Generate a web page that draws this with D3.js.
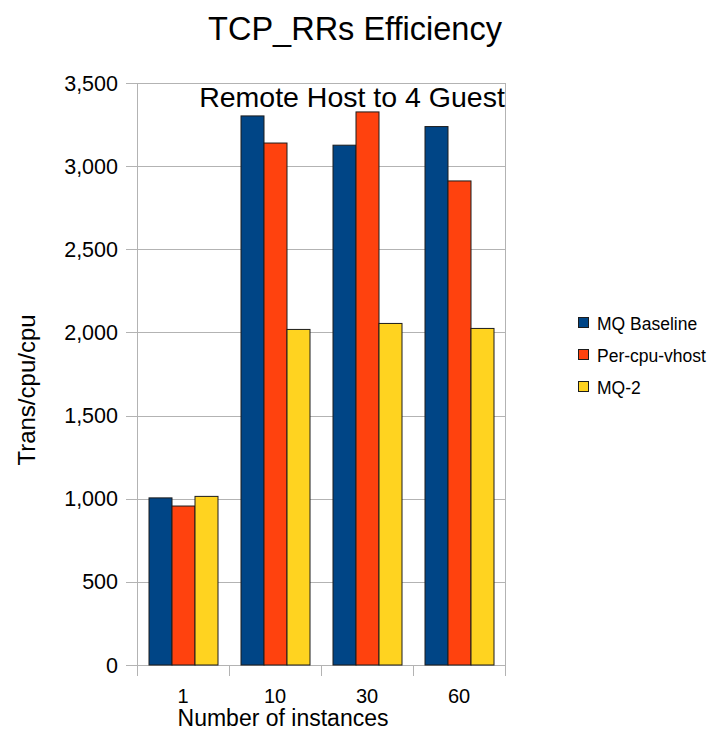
<!DOCTYPE html>
<html><head><meta charset="utf-8">
<script src="https://cdn.jsdelivr.net/npm/d3@7"></script>
<style>body{margin:0;background:#fff;} svg{display:block;font-family:"Liberation Sans",Arial,sans-serif;}</style>
</head><body>
<svg id="c" width="721" height="736"></svg>
<script>
const categories = ["1", "10", "30", "60"];
const seriesNames = ["MQ Baseline", "Per-cpu-vhost", "MQ-2"];
const mqBaseline = [1005, 3302, 3126, 3238];
const perCpuVhost = [956, 3139, 3326, 2911];
const mq2 = [1014, 2018, 2054, 2024];
const yTicks = [0, 500, 1000, 1500, 2000, 2500, 3000, 3500];
const colors = ["#004586", "#ff420e", "#ffd320"];

const series = [mqBaseline, perCpuVhost, mq2];
const svg = d3.select("#c");
const L = 137, R = 505, T = 83, B = 665;

const x = d3.scaleBand().domain(categories).range([L, R]).paddingInner(0).paddingOuter(0);
const xIn = d3.scaleBand().domain(seriesNames).range([0, x.bandwidth()]).paddingInner(0).paddingOuter(0.5);
const y = d3.scaleLinear().domain([0, 3500]).range([B, T]);

// gridlines
svg.append("g").selectAll("line").data(yTicks).join("line")
  .attr("x1", L - 11).attr("x2", R)
  .attr("y1", d => Math.round(y(d)) + 0.5).attr("y2", d => Math.round(y(d)) + 0.5)
  .attr("stroke", "#b3b3b3").attr("stroke-width", 1);
// frame right & left axis
svg.append("line").attr("x1", R + 0.5).attr("x2", R + 0.5).attr("y1", T).attr("y2", B + 11).attr("stroke", "#b3b3b3");
svg.append("line").attr("x1", L + 0.5).attr("x2", L + 0.5).attr("y1", T).attr("y2", B + 11).attr("stroke", "#b3b3b3");
// x ticks at boundaries
const bounds = categories.map(c => x(c)).concat([R]);
svg.append("g").selectAll("line").data(bounds).join("line")
  .attr("x1", d => Math.round(d) + 0.5).attr("x2", d => Math.round(d) + 0.5)
  .attr("y1", B).attr("y2", B + 11).attr("stroke", "#b3b3b3");

// bars
series.forEach((vals, si) => {
  svg.append("g").selectAll("rect").data(vals).join("rect")
    .attr("x", (d, i) => x(categories[i]) + xIn(seriesNames[si]) + 0.5)
    .attr("y", d => y(d))
    .attr("width", xIn.bandwidth())
    .attr("height", d => B - y(d))
    .attr("fill", colors[si]).attr("stroke", "#1c1c1c").attr("stroke-width", 1);
});

// y tick labels
svg.append("g").selectAll("text").data(yTicks).join("text")
  .attr("x", 118).attr("y", d => y(d) + 7.5)
  .attr("text-anchor", "end").attr("font-size", 21.5).attr("fill", "#000")
  .text(d => d3.format(",")(d));

// x labels
svg.append("g").selectAll("text").data(categories).join("text")
  .attr("x", d => x(d) + x.bandwidth() / 2).attr("y", 703)
  .attr("text-anchor", "middle").attr("font-size", 20).text(d => d);

svg.append("text").attr("x", 283).attr("y", 726).attr("text-anchor", "middle")
  .attr("font-size", 23).text("Number of instances");

svg.append("text").attr("transform", "translate(35,390) rotate(-90)").attr("text-anchor", "middle")
  .attr("font-size", 24).text("Trans/cpu/cpu");

svg.append("text").attr("x", 355).attr("y", 40).attr("text-anchor", "middle")
  .attr("font-size", 32.5).text("TCP_RRs Efficiency");

svg.append("text").attr("x", 352).attr("y", 107).attr("text-anchor", "middle")
  .attr("font-size", 28.5).text("Remote Host to 4 Guest");

// legend
const lg = svg.append("g");
seriesNames.forEach((n, i) => {
  const cy = 323 + i * 32;
  lg.append("rect").attr("x", 578.5).attr("y", cy - 5.5).attr("width", 10).attr("height", 10)
    .attr("fill", colors[i]).attr("stroke", "#1c1c1c");
  lg.append("text").attr("x", 597).attr("y", cy + 6.5).attr("font-size", 17.5).text(n);
});
</script>
</body></html>
